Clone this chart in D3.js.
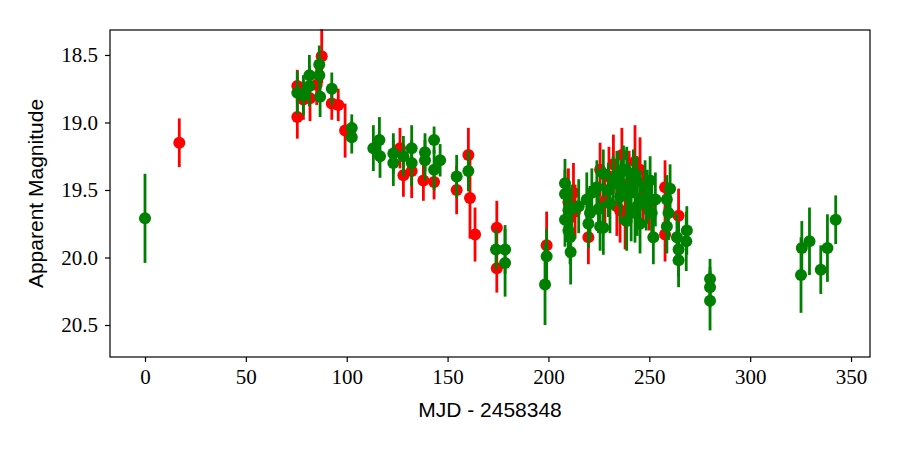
<!DOCTYPE html>
<html>
<head>
<meta charset="utf-8">
<script src="https://cdn.jsdelivr.net/npm/d3@7"></script>
<style>
  body { margin: 0; background: #fff; }
  .tick text { font-family: "Liberation Serif", "DejaVu Serif", serif; font-size: 21px; }
  .axlabel { font-family: "Liberation Sans", "DejaVu Sans", sans-serif; font-size: 21px; }
</style>
</head>
<body>
<div id="chart"></div>
<script>
// red band: MJD offset, magnitude, error
var redMjd = [17, 75.5, 75.5, 78.5, 81.8, 85.1, 87.6, 92.6, 95.8, 99.2,
  126.4, 128.1, 132.2, 138.0, 143.3, 154.5, 160.3, 161.1, 163.6,
  174.4, 174.4, 199.1, 212.4, 209.9, 213.2, 219.8, 225.6, 232.2, 233.9,
  236.4, 242.9, 245.4, 235.5, 257.8, 264.5, 257.8,
  230.0, 240.0, 247.0, 250.0, 238.0, 228.0];
var redMag = [19.15, 18.73, 18.96, 18.83, 18.82, 18.72, 18.51, 18.86, 18.87, 19.06,
  19.19, 19.39, 19.36, 19.43, 19.44, 19.50, 19.24, 19.56, 19.83,
  19.78, 20.08, 19.91, 19.52, 19.59, 19.66, 19.85, 19.35, 19.31, 19.62,
  19.24, 19.29, 19.35, 19.65, 19.48, 19.69, 19.83,
  19.40, 19.45, 19.55, 19.60, 19.72, 19.58];
var redErr = [0.18, 0.12, 0.16, 0.15, 0.17, 0.15, 0.20, 0.12, 0.12, 0.20,
  0.15, 0.16, 0.20, 0.15, 0.13, 0.18, 0.20, 0.30, 0.20,
  0.20, 0.18, 0.25, 0.22, 0.25, 0.20, 0.20, 0.20, 0.22, 0.22,
  0.20, 0.27, 0.24, 0.24, 0.20, 0.20, 0.20,
  0.22, 0.24, 0.22, 0.20, 0.22, 0.22];

// green band
var greenMjd = [0, 75.5, 78.5, 81.5, 81.5, 86.4, 86.4, 86.8, 92.6, 102.5, 102.5,
  113.2, 116.2, 116.5, 123.1, 123.1, 128.1, 132.2, 132.2, 138.8, 138.8,
  143.3, 143.3, 146.3, 154.5, 160.3, 174.0, 178.5, 178.5, 199.1, 198.3,
  208.2, 208.2, 209.9, 208.2, 211.5, 209.9, 210.7, 211.0,
  219.0, 220.6, 219.8, 224.0, 225.6, 227.2, 224.8, 229.7, 233.9, 235.5,
  238.8, 238.8, 237.2, 242.1, 243.8, 245.4, 242.9, 247.9, 245.4, 250.4,
  251.2, 252.0, 227.2, 260.3, 258.7, 259.5, 258.7, 263.7, 268.6, 268.3,
  264.5, 264.5, 280.1, 280.1, 280.1, 325.2, 325.6, 329.4, 335.0, 338.3, 342.4,
  230.5, 232.0, 236.0, 240.0, 244.0, 248.5, 253.0, 221.5, 215.0, 234.5, 241.0, 249.0];
var greenMag = [19.71, 18.78, 18.80, 18.65, 18.73, 18.57, 18.65, 18.81, 18.75, 19.04, 19.11,
  19.19, 19.13, 19.25, 19.23, 19.30, 19.25, 19.19, 19.30, 19.22, 19.28,
  19.13, 19.35, 19.28, 19.40, 19.36, 19.94, 19.94, 20.04, 19.99, 20.20,
  19.45, 19.53, 19.65, 19.72, 19.64, 19.80, 19.85, 19.96,
  19.57, 19.67, 19.75, 19.48, 19.77, 19.38, 19.64, 19.50, 19.39, 19.55,
  19.36, 19.73, 19.35, 19.38, 19.43, 19.57, 19.67, 19.48, 19.75, 19.43,
  19.67, 19.85, 19.78, 19.49, 19.57, 19.67, 19.77, 19.85, 19.80, 19.88,
  19.94, 20.02, 20.16, 20.22, 20.32, 20.13, 19.93, 19.88, 20.09, 19.93, 19.72,
  19.60, 19.45, 19.48, 19.52, 19.62, 19.60, 19.57, 19.52, 19.62, 19.42, 19.66, 19.55];
var greenErr = [0.33, 0.16, 0.15, 0.15, 0.15, 0.14, 0.14, 0.15, 0.12, 0.10, 0.12,
  0.17, 0.17, 0.16, 0.15, 0.17, 0.15, 0.17, 0.17, 0.14, 0.15,
  0.10, 0.15, 0.12, 0.16, 0.15, 0.15, 0.18, 0.25, 0.20, 0.30,
  0.18, 0.18, 0.20, 0.20, 0.18, 0.20, 0.20, 0.24,
  0.20, 0.20, 0.18, 0.20, 0.18, 0.18, 0.18, 0.20, 0.18, 0.20,
  0.18, 0.22, 0.18, 0.18, 0.18, 0.22, 0.22, 0.20, 0.22, 0.18,
  0.22, 0.20, 0.20, 0.18, 0.18, 0.20, 0.20, 0.18, 0.18, 0.22,
  0.20, 0.20, 0.15, 0.15, 0.22, 0.28, 0.20, 0.25, 0.18, 0.25, 0.18,
  0.22, 0.20, 0.20, 0.22, 0.22, 0.20, 0.20, 0.18, 0.20, 0.20, 0.22, 0.20];

var xTicks = [0, 50, 100, 150, 200, 250, 300, 350];
var yTicks = [18.5, 19.0, 19.5, 20.0, 20.5];

var width = 900, height = 450;
var margin = { top: 30, right: 30, bottom: 93, left: 110 };

var svg = d3.select('#chart').append('svg')
  .attr('width', width)
  .attr('height', height);

var x = d3.scaleLinear().domain([-17.35, 359.4]).range([margin.left, width - margin.right]);
var y = d3.scaleLinear().domain([18.315, 20.737]).range([margin.top, height - margin.bottom]);

function series(mjd, mag, err, color) {
  var data = mjd.map(function(d, i) { return { t: d, m: mag[i], e: err[i] }; });
  var g = svg.append('g');
  g.selectAll('line').data(data).enter().append('line')
    .attr('x1', function(d) { return x(d.t); })
    .attr('x2', function(d) { return x(d.t); })
    .attr('y1', function(d) { return y(d.m - d.e); })
    .attr('y2', function(d) { return y(d.m + d.e); })
    .attr('stroke', color)
    .attr('stroke-width', 2.8);
  g.selectAll('circle').data(data).enter().append('circle')
    .attr('cx', function(d) { return x(d.t); })
    .attr('cy', function(d) { return y(d.m); })
    .attr('r', 6)
    .attr('fill', color);
}

series(redMjd, redMag, redErr, '#ff0000');
series(greenMjd, greenMag, greenErr, '#008000');

var xAxis = svg.append('g')
  .attr('transform', 'translate(0,' + (height - margin.bottom) + ')')
  .call(d3.axisBottom(x).tickValues(xTicks).tickSize(5).tickPadding(7).tickFormat(d3.format('d')));
var yAxis = svg.append('g')
  .attr('transform', 'translate(' + margin.left + ',0)')
  .call(d3.axisLeft(y).tickValues(yTicks).tickSize(5).tickPadding(7).tickFormat(d3.format('.1f')));
[xAxis, yAxis].forEach(function(a) {
  a.select('.domain').remove();
  a.selectAll('.tick line').attr('stroke', '#000').attr('stroke-width', 1.2);
  a.selectAll('.tick text').attr('fill', '#000');
});

svg.append('rect')
  .attr('x', margin.left).attr('y', margin.top)
  .attr('width', width - margin.left - margin.right)
  .attr('height', height - margin.top - margin.bottom)
  .attr('fill', 'none').attr('stroke', '#000').attr('stroke-width', 1.2);

svg.append('text').attr('class', 'axlabel')
  .attr('x', (margin.left + width - margin.right) / 2)
  .attr('y', 417)
  .attr('text-anchor', 'middle')
  .text('MJD - 2458348');

svg.append('text').attr('class', 'axlabel')
  .attr('transform', 'translate(43,' + ((margin.top + height - margin.bottom) / 2) + ') rotate(-90)')
  .attr('text-anchor', 'middle')
  .text('Apparent Magnitude');
</script>
</body>
</html>
